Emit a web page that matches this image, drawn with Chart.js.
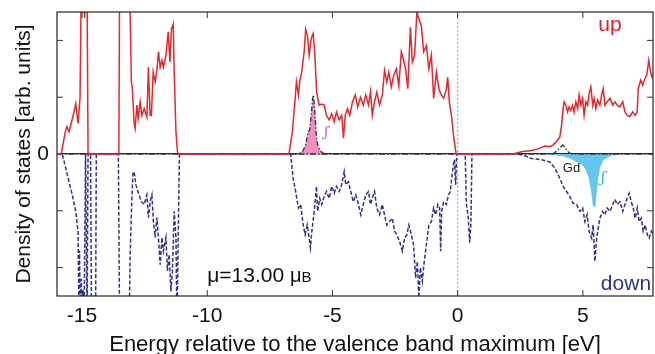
<!DOCTYPE html>
<html>
<head>
<meta charset="utf-8">
<script src="https://cdn.jsdelivr.net/npm/chart.js@4"></script>
<style>
html,body{margin:0;padding:0;background:#fff;}
canvas{display:block;}
</style>
</head>
<body>
<canvas id="c" width="655" height="354" style="width:655px;height:354px"></canvas>
<script>
// ---- data (energies in eV, DOS in arbitrary units) ----
const xTickVals = [-15, -10, -5, 0, 5];
const yTickVals = [-2, -1, 0, 1, 2];

const upE = [-16.0,-15.83,-15.67,-15.6,-15.52,-15.45,-15.32,-15.25,-15.16,-15.08,-15.03,-14.95,-14.9,-14.86,-14.8,-14.76,
 -13.53,-13.5,-13.1,-13.03,-12.99,-12.92,-12.88,-12.81,-12.76,-12.68,-12.61,-12.52,-12.41,-12.35,-12.28,-12.23,-12.16,-12.08,-12.01,-11.95,-11.88,-11.81,-11.75,-11.65,-11.56,-11.49,-11.43,-11.36,-11.32,-11.25,-11.19,-11.15,
 -6.76,-6.73,-6.6,-6.49,-6.44,-6.36,-6.31,-6.23,-6.13,-6.07,-6.0,-5.93,-5.85,-5.77,-5.71,-5.63,-5.53,-5.43,-5.33,-5.24,-5.13,-5.03,-4.93,-4.84,-4.73,-4.63,-4.56,-4.49,-4.4,-4.31,-4.2,-4.09,-3.99,-3.88,-3.77,-3.67,-3.56,-3.48,-3.41,-3.32,-3.23,-3.12,-3.01,-2.92,-2.83,-2.75,-2.65,-2.56,-2.45,-2.35,-2.25,-2.16,-2.08,-1.99,-1.89,-1.81,-1.72,-1.63,-1.55,-1.45,-1.36,-1.25,-1.15,-1.05,-0.96,-0.85,-0.75,-0.65,-0.56,-0.45,-0.4,-0.33,-0.24,-0.16,-0.06,
 2.2,2.55,2.95,3.21,3.48,3.68,3.81,3.95,4.08,4.15,4.21,4.25,4.32,4.39,4.45,4.52,4.59,4.65,4.72,4.79,4.85,4.92,4.99,5.05,5.12,5.19,5.25,5.32,5.39,5.45,5.52,5.59,5.68,5.75,5.81,5.88,5.97,6.08,6.19,6.28,6.37,6.48,6.59,6.68,6.77,6.88,6.99,7.08,7.17,7.21,7.31,7.39,7.48,7.55,7.63,7.68,7.75,7.81];
const upDOS = [0,0,0.39,0.48,0.39,0.51,0.74,0.89,0.54,0.98,3,3,2.4,3,3,0,
 0,3,3,1.27,1.15,0.54,0.45,0.86,0.63,0.92,0.68,0.8,0.65,1.53,0.68,0.68,1.44,1.27,1.47,1.8,1.53,1.65,1.53,1.74,2.15,1.62,2.2,2.29,1.44,0.39,0.04,0,
 0,0.02,0.39,0.98,1.27,1.04,1.27,1.44,1.8,2.2,2.09,1.74,2.03,2.12,1.8,1.09,0.86,0.88,0.86,0.68,0.6,0.71,0.57,0.74,0.6,0.68,0.28,0.68,0.8,0.68,0.92,1.04,0.83,1.0,0.86,1.04,0.86,1.1,0.68,0.92,1.09,0.86,1.04,1.47,1.27,1.44,1.18,1.38,1.5,1.2,1.8,1.65,1.5,1.15,2.23,1.62,1.74,2.5,2.38,2.26,1.8,1.91,1.5,1.74,0.98,1.44,1.15,1.04,0.98,1.15,1.35,0.9,0.65,0.3,0,
 0,0.04,0.06,0.09,0.14,0.13,0.16,0.22,0.3,0.51,0.8,0.92,0.86,0.74,0.83,0.77,0.86,0.74,0.92,0.8,1.04,0.86,0.98,0.68,0.92,0.86,1.07,1.18,0.86,0.98,0.8,0.95,0.86,1.04,1.15,0.86,0.92,0.98,0.86,0.92,0.86,0.83,0.92,0.74,0.68,0.66,0.74,0.68,0.74,1.15,1.3,1.21,1.33,1.39,1.65,1.5,1.36,1.39];

const downE = [-16.0,-15.79,-15.65,-15.52,-15.39,-15.25,-15.16,-15.13,-15.1,-15.07,-15.03,-15.0,-14.96,-14.92,-14.86,-14.8,-14.76,-14.66,-14.62,-14.58,-14.54,-14.5,-14.46,-14.43,
 -13.55,-13.5,-13.12,-13.08,-13.02,-12.97,-12.92,-12.85,-12.79,-12.72,-12.63,-12.52,-12.41,-12.35,-12.28,-12.21,-12.15,-12.08,-12.01,-11.95,-11.88,-11.81,-11.75,-11.65,-11.59,-11.52,-11.45,-11.39,-11.32,-11.25,-11.21,-11.16,-11.11,
 -6.67,-6.57,-6.47,-6.36,-6.27,-6.17,-6.09,-6.01,-5.93,-5.88,-5.83,-5.76,-5.69,-5.64,-5.59,-5.51,-5.43,-5.33,-5.24,-5.13,-5.03,-4.93,-4.84,-4.73,-4.63,-4.53,-4.47,-4.36,-4.27,-4.17,-4.07,-3.96,-3.87,-3.77,-3.67,-3.56,-3.48,-3.41,-3.32,-3.23,-3.12,-3.01,-2.92,-2.83,-2.72,-2.61,-2.52,-2.43,-2.32,-2.21,-2.12,-2.03,-1.95,-1.85,-1.76,-1.68,-1.61,-1.55,-1.49,-1.41,-1.35,-1.25,-1.15,-1.05,-0.96,-0.88,-0.79,-0.72,-0.68,-0.64,-0.56,-0.45,-0.37,-0.29,-0.24,-0.19,-0.13,-0.08,-0.04,
 0.3,0.35,0.42,0.48,0.53,0.57,
 2.41,2.68,2.95,3.35,3.68,3.88,4.08,4.21,4.35,4.48,4.61,4.75,4.88,4.99,5.08,5.17,5.25,5.35,5.41,5.48,5.55,5.61,5.68,5.79,5.88,5.97,6.08,6.19,6.28,6.37,6.48,6.59,6.68,6.77,6.85,6.93,7.01,7.09,7.17,7.25,7.33,7.41,7.49,7.57,7.65,7.73,7.81];
const downDOS = [0,0,-0.25,-0.49,-0.72,-1.01,-1.36,-2.5,-1.7,-3,-2.2,-3,-2.4,-3,0,-3,0,0,-3,-2.5,-3,-2.6,-3,0,
 0,-3,-3,-1.8,-0.9,-0.35,-0.31,-0.54,-0.63,-0.72,-0.84,-0.89,-0.72,-1.12,-0.84,-0.72,-1.19,-1.47,-1.12,-1.47,-1.95,-1.47,-1.71,-1.47,-2.06,-1.77,-2.42,-2.06,-1.01,-1.47,-3,-1.47,0,
 0,-0.43,-0.66,-0.95,-0.89,-1.25,-1.42,-1.25,-1.48,-1.65,-1.39,-1.13,-0.84,-0.57,-1.01,-0.78,-0.89,-0.75,-0.66,-0.78,-0.57,-0.69,-0.57,-0.66,-0.54,-0.31,-0.54,-0.49,-0.66,-0.84,-0.72,-0.89,-1.07,-0.89,-0.72,-0.66,-0.89,-0.78,-0.66,-0.95,-1.07,-0.89,-1.07,-1.25,-1.19,-1.13,-1.36,-1.42,-1.54,-1.71,-1.48,-1.42,-1.25,-1.42,-1.6,-2.18,-1.89,-2.53,-2.0,-2.24,-1.95,-1.6,-1.25,-1.19,-0.95,-1.07,-0.89,-0.95,-1.71,-1.01,-0.84,-0.89,-0.72,-0.66,-0.43,-0.25,-0.1,-0.54,0,
 0,-0.9,-1.1,-1.56,-1.2,0,
 0,-0.03,-0.08,-0.1,-0.14,-0.25,-0.43,-0.57,-0.66,-0.75,-0.87,-0.89,-1.01,-0.95,-1.19,-1.07,-1.36,-1.48,-1.25,-1.89,-1.48,-1.31,-1.13,-1.01,-1.07,-0.95,-1.01,-0.89,-0.8,-0.89,-0.84,-1.01,-0.89,-0.78,-0.69,-0.84,-0.95,-1.13,-0.95,-1.19,-1.13,-1.36,-1.25,-1.42,-1.48,-1.36,-1.42];

const gdFupE = [-6.6,-6.33,-6.2,-6.07,-5.97,-5.91,-5.85,-5.8,-5.76,-5.72,-5.68,-5.64,-5.59,-5.51,-5.4,-5.27];
const gdFupDOS = [0,0.01,0.04,0.16,0.39,0.42,0.68,0.95,1.04,0.86,0.57,0.3,0.16,0.08,0.02,0];

const gdFdownE = [3.6,4.21,4.48,4.75,5.01,5.15,5.25,5.35,5.41,5.48,5.55,5.61,5.68,5.81,6.08,6.35];
const gdFdownDOS = [0,-0.03,-0.07,-0.13,-0.19,-0.3,-0.42,-0.66,-0.89,-0.93,-0.6,-0.37,-0.22,-0.1,-0.03,0];

const gdTotE = [-16.0,3.8,3.95,4.1,4.2,4.3,4.45,4.6,7.8];
const gdTotDOS = [0,0,0.05,0.12,0.16,0.1,0.02,0,0];

const vbmE = [0, 0];
const vbmDOS = [-2.5, 2.5];

const xTitle = 'Energy relative to the valence band maximum [eV]';
const yTitle = 'Density of states [arb. units]';

// ---- helpers ----
const pts = (xs, ys) => xs.map((x, i) => ({x: x, y: ys[i]}));
const FONT = '"Liberation Sans", Arial, Helvetica, sans-serif';

const framePlugin = {
  id: 'frame',
  afterDatasetsDraw(chart) {
    const {ctx, chartArea: a, scales} = chart;
    ctx.save();
    ctx.strokeStyle = '#222';
    ctx.lineWidth = 1.2;
    ctx.strokeRect(a.left, a.top, a.right - a.left, a.bottom - a.top);
    ctx.lineWidth = 1;
    ctx.strokeStyle = '#333';
    const tl = 6;
    scales.x.ticks.forEach(t => {
      const px = scales.x.getPixelForValue(t.value);
      ctx.beginPath();
      ctx.moveTo(px, a.bottom); ctx.lineTo(px, a.bottom - tl);
      ctx.moveTo(px, a.top); ctx.lineTo(px, a.top + tl);
      ctx.stroke();
    });
    scales.y.ticks.forEach(t => {
      if (t.value === 0) return;
      const py = scales.y.getPixelForValue(t.value);
      ctx.beginPath();
      ctx.moveTo(a.left, py); ctx.lineTo(a.left + tl, py);
      ctx.moveTo(a.right, py); ctx.lineTo(a.right - tl, py);
      ctx.stroke();
    });
    // text annotations placed in data coordinates
    const X = v => scales.x.getPixelForValue(v);
    const Y = v => scales.y.getPixelForValue(v);
    ctx.textBaseline = 'middle';
    ctx.textAlign = 'center';
    ctx.fillStyle = '#e31e24';
    ctx.font = '21px ' + FONT;
    ctx.fillText('up', X(6.08), Y(2.26));
    ctx.fillStyle = '#2e3192';
    ctx.fillText('down', X(6.72), Y(-2.3));
    ctx.textAlign = 'left';
    ctx.fillStyle = '#111';
    ctx.font = '21px ' + FONT;
    const mx = X(-10.0), my = Y(-2.16);
    ctx.fillText('\u03bc=13.00 ', mx, my);
    let w = ctx.measureText('\u03bc=13.00 ').width;
    ctx.font = '20px ' + FONT;
    ctx.fillText('\u03bc', mx + w, my);
    w += ctx.measureText('\u03bc').width;
    ctx.font = '15px ' + FONT;
    ctx.fillText('B', mx + w, my + 1);
    ctx.font = '13px ' + FONT;
    ctx.fillStyle = '#222';
    ctx.fillText('Gd', X(4.2), Y(-0.25));
    ctx.font = 'italic 15px "DejaVu Serif", serif';
    ctx.fillStyle = '#3aaee0';
    ctx.fillText('\u0283', X(5.72), Y(-0.42));
    ctx.fillStyle = '#b0559a';
    ctx.font = 'italic 13px "DejaVu Serif", serif';
    ctx.fillText('\u0283', X(-5.32), Y(0.37));
    ctx.restore();
  }
};

new Chart(document.getElementById('c'), {
  type: 'line',
  data: {
    datasets: [
      {label: 'VBM', data: pts(vbmE, vbmDOS), borderColor: '#9a9a9a', borderWidth: 1, borderDash: [2, 2], pointRadius: 0, order: 6},
      {label: 'Gd f up', data: pts(gdFupE, gdFupDOS), borderColor: '#333', backgroundColor: '#f28cc3', fill: 'origin', borderWidth: 1.3, borderDash: [5, 2, 1.5, 2], pointRadius: 0, order: 4},
      {label: 'Gd f down', data: pts(gdFdownE, gdFdownDOS), borderColor: '#56bfe8', backgroundColor: '#62c6ee', fill: 'origin', borderWidth: 0.8, pointRadius: 0, order: 5},
      {label: 'Gd', data: pts(gdTotE, gdTotDOS), borderColor: '#333', borderWidth: 1.3, borderDash: [6, 2, 1.5, 2], pointRadius: 0, order: 3},
      {label: 'down', data: pts(downE, downDOS), borderColor: '#2e3192', borderWidth: 1.5, borderDash: [4, 2], pointRadius: 0, order: 2},
      {label: 'up', data: pts(upE, upDOS), borderColor: '#e8262b', borderWidth: 1.5, pointRadius: 0, order: 1}
    ]
  },
  options: {
    responsive: false,
    animation: false,
    events: [],
    layout: {padding: {top: 12, right: 2, left: 0, bottom: 0}},
    plugins: {legend: {display: false}, tooltip: {enabled: false}},
    elements: {line: {tension: 0}},
    scales: {
      x: {
        type: 'linear', min: -16, max: 7.8,
        afterBuildTicks: s => { s.ticks = xTickVals.map(v => ({value: v})); },
        afterFit: s => { s.height = 58; s.paddingLeft = 0; s.paddingRight = 0; },
        grid: {display: false, drawTicks: false},
        border: {display: false},
        ticks: {font: {family: FONT, size: 21}, color: '#111', padding: 8, maxRotation: 0, autoSkip: false, callback: v => String(v)},
        title: {display: true, text: xTitle, color: '#111', font: {family: FONT, size: 22, lineHeight: 0.8}, padding: {top: 0, bottom: 0}}
      },
      y: {
        type: 'linear', min: -2.5, max: 2.5,
        afterBuildTicks: s => { s.ticks = yTickVals.map(v => ({value: v})); },
        afterFit: s => { s.width = 57; s.paddingTop = 0; s.paddingBottom = 0; },
        grid: {drawTicks: false, lineWidth: 1.3, color: c => (c.tick && c.tick.value === 0) ? '#222' : 'rgba(0,0,0,0)'},
        border: {display: false},
        ticks: {font: {family: FONT, size: 21}, color: '#111', padding: 8, callback: v => (v === 0 ? '0' : '')},
        title: {display: true, text: yTitle, color: '#111', font: {family: FONT, size: 21, lineHeight: 1}, padding: {top: 14, bottom: 0}}
      }
    }
  },
  plugins: [framePlugin]
});
</script>
</body>
</html>
